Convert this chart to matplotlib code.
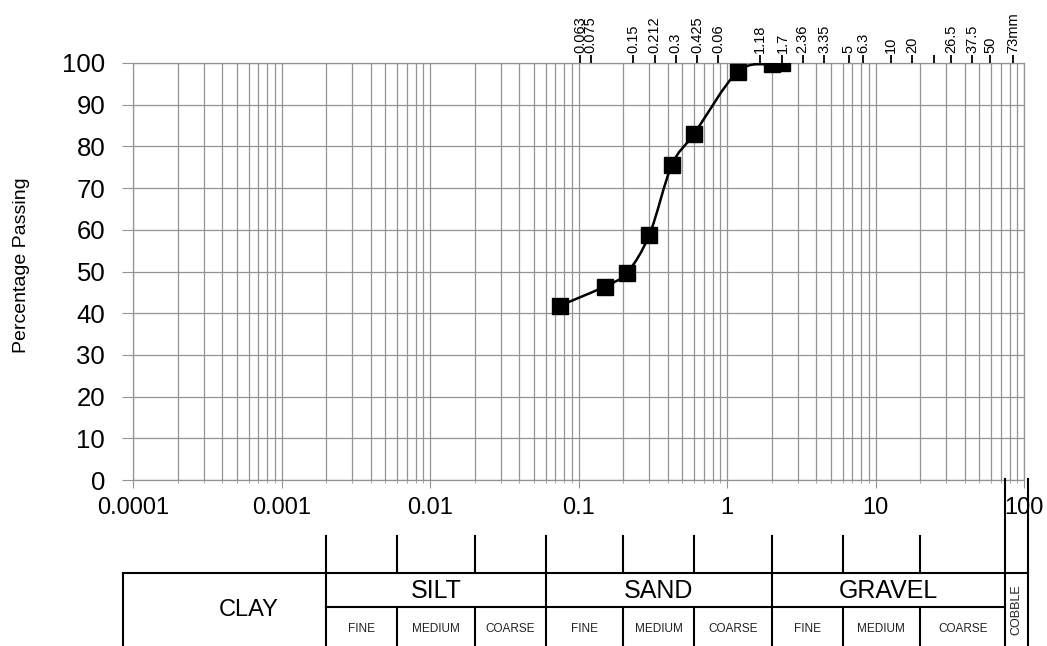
import numpy as np
import matplotlib.pyplot as plt
from matplotlib.path import Path
from matplotlib.patches import PathPatch
from matplotlib.ticker import NullLocator

plt.rcParams['font.family'] = ['Liberation Sans', 'DejaVu Sans']

# sieve analysis: size (mm) vs percentage passing
sieve_mm = [0.075, 0.15, 0.212, 0.3, 0.425, 0.6, 1.18, 2.0, 2.36]
passing = [41.8, 46.4, 49.7, 58.8, 75.5, 83.0, 97.9, 99.7, 100.0]

x_ticks = [1e-4, 1e-3, 1e-2, 0.1, 1, 10, 100]
x_labels = ['0.0001', '0.001', '0.01', '0.1', '1', '10', '100']

# sieve scale printed along the top of the template
top_ticks = [0.063, 0.075, 0.15, 0.212, 0.3, 0.425, 0.6, 1.18, 1.7, 2.36,
             3.35, 5, 6.3, 10, 14, 20, 26.5, 37.5, 50, 73]
top_labels = ['0.063', '0.075', '0.15', '0.212', '0.3', '0.425', '0.06',
              '1.18', '1.7', '2.36', '3.35', '5', '6.3', '10', '20', '',
              '26.5', '37.5', '50', '73mm']

# soil classification boundaries (mm)
main_bounds = [0.002, 0.06, 2, 75]
sub_bounds = [0.002, 0.006, 0.02, 0.06, 0.2, 0.6, 2, 6, 20, 75]
main_names = ['SILT', 'SAND', 'GRAVEL']
sub_names = ['FINE', 'MEDIUM', 'COARSE'] * 3

W, H = 1047, 646
fig = plt.figure(figsize=(W / 100, H / 100), dpi=100)
grid_c = '#939393'

ax = fig.add_axes([133 / W, 1 - 480 / H, (1024 - 133) / W, (480 - 63) / H])
ax.set_xscale('log')

# smoothed curve (Catmull-Rom as cubic Bezier in log-x space)
pts = np.column_stack([np.log10(sieve_mm), passing])
ext = np.vstack([pts[0], pts, pts[-1]])
verts = [pts[0]]
codes = [Path.MOVETO]
for i in range(len(pts) - 1):
    p0, p1, p2, p3 = ext[i], ext[i + 1], ext[i + 2], ext[i + 3]
    verts += [p1 + (p2 - p0) / 6, p2 - (p3 - p1) / 6, p2]
    codes += [Path.CURVE4] * 3
verts = np.array(verts)
verts[:, 0] = 10 ** verts[:, 0]
ax.add_patch(PathPatch(Path(verts, codes), fill=False, lw=1.8,
                       edgecolor='black', zorder=3))
ax.plot(sieve_mm, passing, 's', color='black', ms=12, zorder=4)

ax.set_xlim(1e-4, 100)
ax.set_ylim(0, 100)
ax.set_yticks(range(0, 101, 10))
ax.set_xticks(x_ticks, x_labels)
ax.grid(True, which='both', axis='x', color=grid_c, lw=0.9)
ax.grid(True, which='major', axis='y', color=grid_c, lw=0.9)
for s in ax.spines.values():
    s.set_color(grid_c)
    s.set_linewidth(0.9)
ax.tick_params(axis='y', length=8, color=grid_c, labelsize=18.5, pad=12)
ax.tick_params(axis='x', which='major', length=6, color=grid_c,
               labelsize=17, pad=6)
ax.tick_params(axis='x', which='minor', length=2, color=grid_c)
fig.text(22 / W, 1 - 265 / H, 'Percentage Passing', rotation=90,
         ha='center', va='center', fontsize=14)

# top sieve scale uses its own (offset) log scale in the template
top = ax.twiny()
top.set_xscale('log')
top.set_xlim(4.35e-5, 86.9)
top.set_xticks(top_ticks, top_labels, rotation=90, fontsize=10.5)
top.xaxis.set_minor_locator(NullLocator())
top.tick_params(axis='x', length=6, width=1.3, color='black', pad=1)
for s in top.spines.values():
    s.set_visible(False)

# classification table below the chart (y in pixels from the top)
tab = fig.add_axes([133 / W, 0, (1024 - 133) / W, (H - 480) / H])
tab.set_xscale('log')
tab.set_xlim(1e-4, 100)
tab.set_ylim(H, 480)
tab.axis('off')
kw = dict(color='black', lw=1.5, clip_on=False)
left_edge, right_edge = 8.6e-5, 106
tab.plot([left_edge, right_edge], [573, 573], **kw)
tab.plot([left_edge, left_edge], [573, H], **kw)
tab.plot([main_bounds[0], main_bounds[-1]], [607, 607], **kw)
for b in sub_bounds[:-1]:
    if b in main_bounds:
        tab.plot([b, b], [536, H], **kw)
    else:
        tab.plot([b, b], [536, 573], **kw)
        tab.plot([b, b], [607, H], **kw)
for b in [main_bounds[-1], right_edge]:
    tab.plot([b, b], [479, H], **kw)

tab.text(6e-4, 610, 'CLAY', ha='center', va='center', fontsize=17)
for lo, hi, name in zip(main_bounds[:-1], main_bounds[1:], main_names):
    tab.text(np.sqrt(lo * hi), 591, name, ha='center', va='center',
             fontsize=18)
for lo, hi, name in zip(sub_bounds[:-1], sub_bounds[1:], sub_names):
    tab.text(np.sqrt(lo * hi), 629, name, ha='center', va='center',
             fontsize=8.5, color='#222222')
tab.text(np.sqrt(main_bounds[-1] * right_edge), 610, 'COBBLE', rotation=90,
         ha='center', va='center', fontsize=9, color='#222222')

fig.savefig('out.png', dpi=100)
